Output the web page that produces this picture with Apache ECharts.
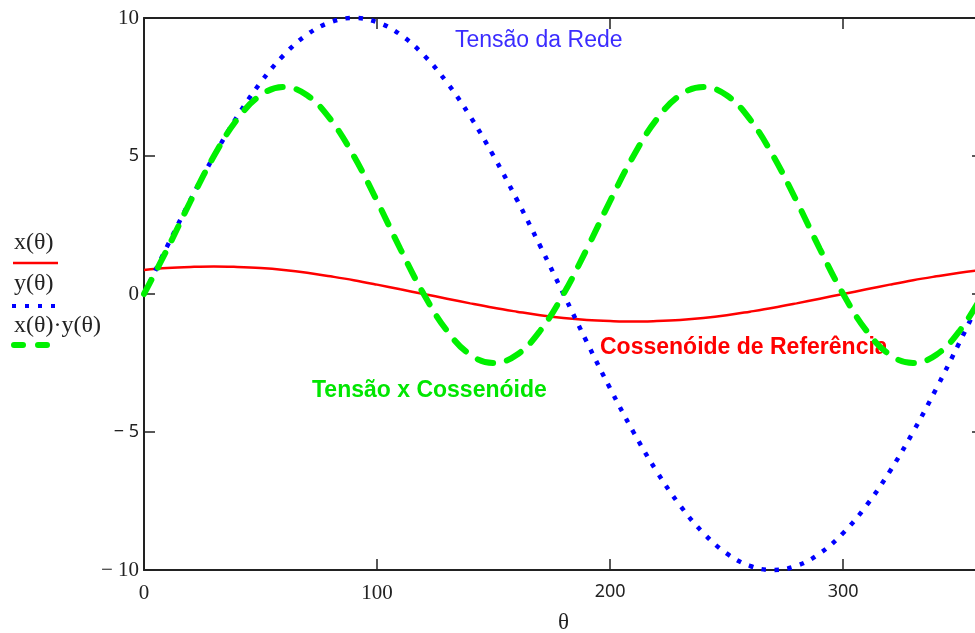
<!DOCTYPE html>
<html>
<head>
<meta charset="utf-8">
<script src="https://cdn.jsdelivr.net/npm/echarts@6/dist/echarts.min.js"></script>
<style>
html,body{margin:0;padding:0;background:#fff;}
#chart{width:975px;height:633px;}
</style>
</head>
<body>
<div id="chart"></div>
<script>
// angle in degrees
var theta = [0,10,20,30,40,50,60,70,80,90,100,110,120,130,140,150,160,170,180,
	190,200,210,220,230,240,250,260,270,280,290,300,310,320,330,340,350,360];
// x(θ) - cossenoide de referencia (vermelho)
var xVals = [0.87,0.94,0.98,1.00,0.98,0.94,0.87,0.77,0.64,0.50,0.34,0.17,0.00,-0.17,-0.34,-0.50,-0.64,-0.77,-0.87,
	-0.94,-0.98,-1.00,-0.98,-0.94,-0.87,-0.77,-0.64,-0.50,-0.34,-0.17,0.00,0.17,0.34,0.50,0.64,0.77,0.87];
// y(θ) - tensao da rede (azul)
var yVals = [0,1.74,3.42,5.00,6.43,7.66,8.66,9.40,9.85,10.00,9.85,9.40,8.66,7.66,6.43,5.00,3.42,1.74,0,
	-1.74,-3.42,-5.00,-6.43,-7.66,-8.66,-9.40,-9.85,-10.00,-9.85,-9.40,-8.66,-7.66,-6.43,-5.00,-3.42,-1.74,0];
// x(θ)·y(θ) (verde)
var xyVals = [0,1.63,3.37,5.00,6.33,7.20,7.50,7.20,6.33,5.00,3.37,1.63,0,-1.33,-2.20,-2.50,-2.20,-1.33,0,
	1.63,3.37,5.00,6.33,7.20,7.50,7.20,6.33,5.00,3.37,1.63,0,-1.33,-2.20,-2.50,-2.20,-1.33,0];

var serifLabels = [10, 0, -10];

function pairs(vals){
	var out = [];
	for(var i in theta){
		out.push([theta[i], vals[i]]);
	}
	return out;
}

function fmt(v, serifList){
	var txt = v < 0 ? '\u2212 ' + Math.abs(v) : '' + v;
	return serifList.indexOf(v) >= 0 ? '{s|' + txt + '}' : '{n|' + txt + '}';
}

var labelRich = {
	s: {fontFamily: 'Liberation Serif', fontSize: 21, color: '#222'},
	n: {fontFamily: 'Noto Sans', fontSize: 18, color: '#222'}
};
var lineStyleAxis = {color: '#222', width: 2};
var tickStyle = {show: true, inside: true, length: 11, lineStyle: {color: '#222', width: 1.5}};

var myChart = echarts.init(document.getElementById('chart'));
var option = {
	animation: false,
	backgroundColor: '#fff',
	// o grafico original passa um pouco da borda direita
	grid: {left: 144, top: 18, right: -8, bottom: 63, containLabel: false, outerBoundsMode: 'none'},
	xAxis: [{
		type: 'value', min: 0, max: 360, interval: 100, position: 'bottom',
		axisLine: {show: true, onZero: false, lineStyle: lineStyleAxis},
		axisTick: tickStyle,
		splitLine: {show: false},
		axisLabel: {margin: 13, showMaxLabel: false, rich: labelRich,
			formatter: function(v){ return fmt(v, [0, 100]); }},
		name: 'θ', nameLocation: 'middle', nameGap: 41,
		nameTextStyle: {fontFamily: 'Liberation Serif', fontSize: 23, color: '#222'}
	},{
		type: 'value', min: 0, max: 360, interval: 100, position: 'top',
		axisLine: {show: true, onZero: false, lineStyle: lineStyleAxis},
		axisTick: tickStyle, axisLabel: {show: false}, splitLine: {show: false}
	}],
	yAxis: [{
		type: 'value', min: -10, max: 10, interval: 5, position: 'left',
		axisLine: {show: true, onZero: false, lineStyle: lineStyleAxis},
		axisTick: tickStyle,
		splitLine: {show: false},
		axisLabel: {margin: 5, rich: labelRich,
			formatter: function(v){ return fmt(v, serifLabels); }}
	},{
		type: 'value', min: -10, max: 10, interval: 5, position: 'right',
		axisLine: {show: true, onZero: false, lineStyle: lineStyleAxis},
		axisTick: tickStyle, axisLabel: {show: false}, splitLine: {show: false}
	}],
	series: [{
		name: 'x(θ)', type: 'line', data: pairs(xVals), smooth: 0.4, showSymbol: false,
		lineStyle: {color: '#ff0000', width: 2.5}
	},{
		name: 'y(θ)', type: 'line', data: pairs(yVals), smooth: 0.4, showSymbol: false, clip: false,
		lineStyle: {color: '#0000ff', width: 4.5, type: [4.5, 8.5], cap: 'butt'}
	},{
		name: 'x(θ)·y(θ)', type: 'line', data: pairs(xyVals), smooth: 0.4, showSymbol: false,
		lineStyle: {color: '#00f000', width: 6, type: [16, 14], cap: 'round'}
	}],
	graphic: [
		// legenda a esquerda
		{type: 'text', left: 14, top: 231, style: {text: 'x(θ)', font: '24px "Liberation Serif"', fill: '#222'}},
		{type: 'line', shape: {x1: 13, y1: 263, x2: 58, y2: 263}, style: {stroke: '#ff0000', lineWidth: 2.5}},
		{type: 'text', left: 14, top: 272, style: {text: 'y(θ)', font: '24px "Liberation Serif"', fill: '#222'}},
		{type: 'line', shape: {x1: 12, y1: 306, x2: 57, y2: 306}, style: {stroke: '#0000ff', lineWidth: 4, lineDash: [4, 9]}},
		{type: 'text', left: 14, top: 314, style: {text: 'x(θ)·y(θ)', font: '24px "Liberation Serif"', fill: '#222'}},
		{type: 'line', shape: {x1: 14, y1: 345, x2: 50, y2: 345}, style: {stroke: '#00f000', lineWidth: 6, lineDash: [9, 15], lineCap: 'round'}},
		// anotacoes
		{type: 'text', left: 455, top: 29, style: {text: 'Tensão da Rede', font: '23px "Liberation Sans"', fill: '#3b2cff'}},
		{type: 'text', left: 600, top: 336, style: {text: 'Cossenóide de Referência', font: 'bold 23px "Liberation Sans"', fill: '#ff0000'}},
		{type: 'text', left: 312, top: 379, style: {text: 'Tensão x Cossenóide', font: 'bold 23px "Liberation Sans"', fill: '#00e600'}}
	]
};
myChart.setOption(option);
</script>
</body>
</html>
